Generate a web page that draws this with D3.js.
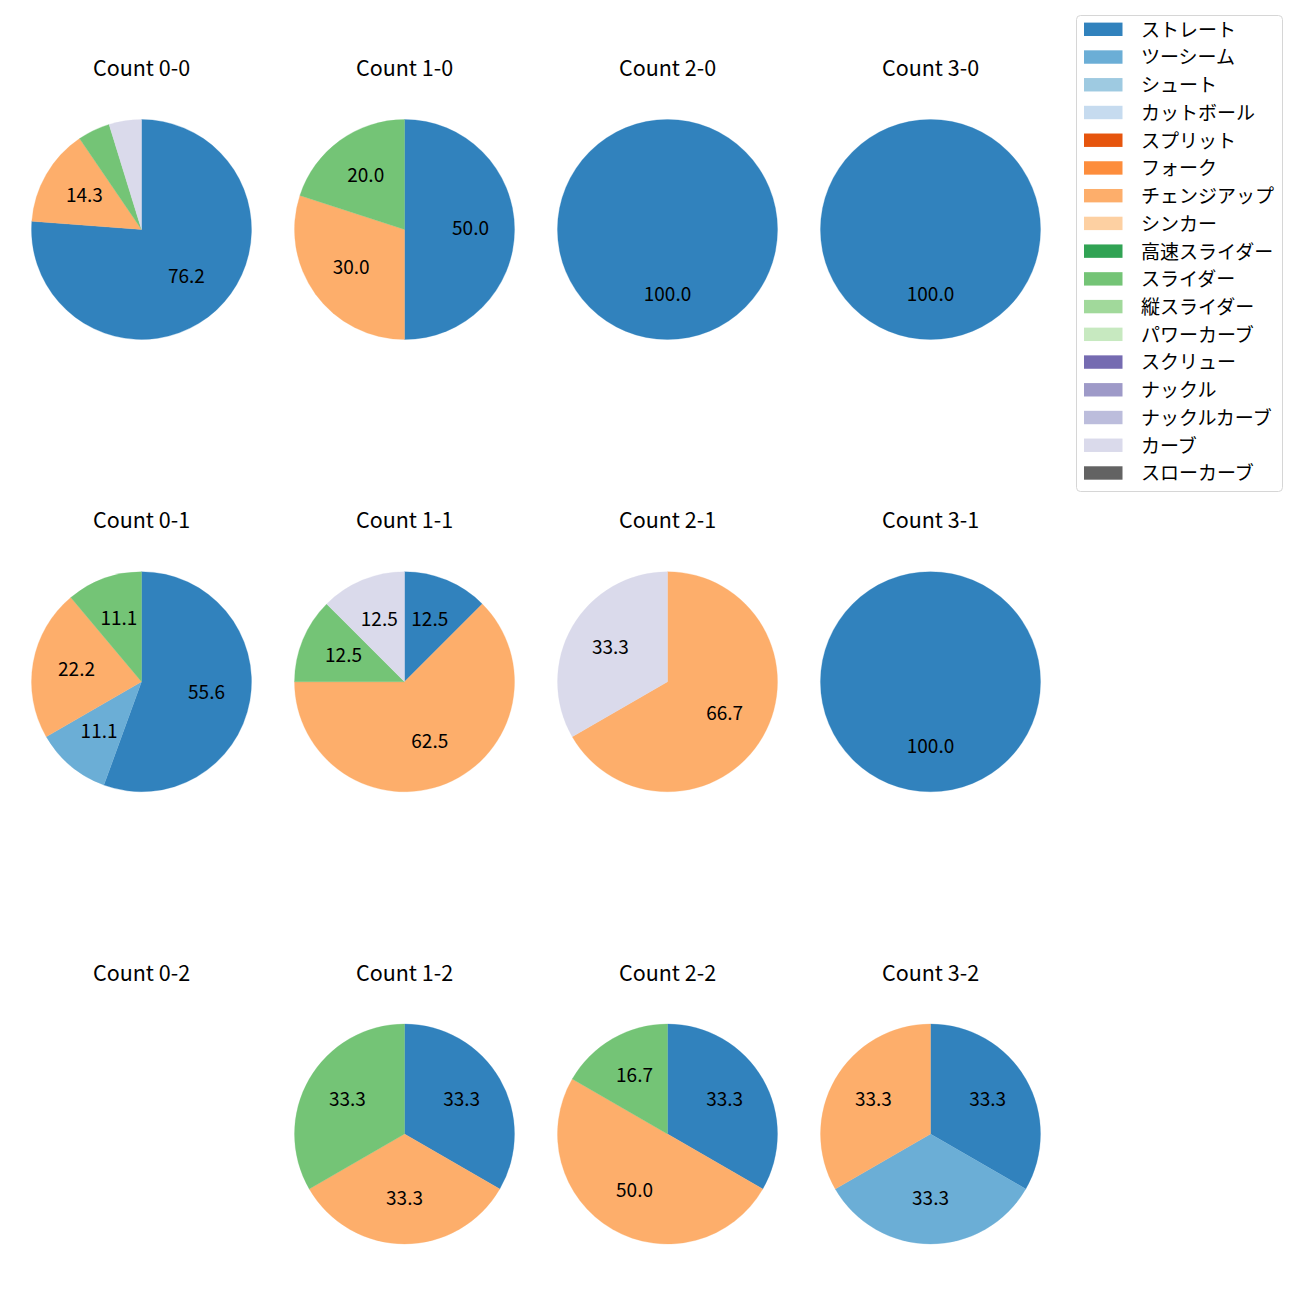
<!DOCTYPE html>
<html>
<head>
<meta charset="utf-8">
<script src="https://cdn.jsdelivr.net/npm/d3@7"></script>
<style>
  html, body { margin: 0; padding: 0; background: #ffffff; }
  text { font-family: "Noto Sans CJK JP", "Noto Sans", sans-serif; }
</style>
</head>
<body>
<svg id="chart" width="1300" height="1300"></svg>
<script>
// ---- data ----
const pitchTypes = ["ストレート","ツーシーム","シュート","カットボール","スプリット","フォーク",
  "チェンジアップ","シンカー","高速スライダー","スライダー","縦スライダー","パワーカーブ",
  "スクリュー","ナックル","ナックルカーブ","カーブ","スローカーブ"];
const pitchColors = ["#3182bd","#6baed6","#9ecae1","#c6dbef","#e6550d","#fd8d3c",
  "#fdae6b","#fdd0a2","#31a354","#74c476","#a1d99b","#c7e9c0",
  "#756bb1","#9e9ac8","#bcbddc","#dadaeb","#636363"];
const balls = [0, 1, 2, 3];
const strikes = [0, 1, 2];
// pitch counts per type (same order as pitchTypes)
//                 Str Two Sht Cut Spl For Chg Snk HSl Sld VSl PCv Scr Knk KCv Crv SCv
const count00 = [16,  0,  0,  0,  0,  0,  3,  0,  0,  1,  0,  0,  0,  0,  0,  1,  0];
const count10 = [ 5,  0,  0,  0,  0,  0,  3,  0,  0,  2,  0,  0,  0,  0,  0,  0,  0];
const count20 = [ 1,  0,  0,  0,  0,  0,  0,  0,  0,  0,  0,  0,  0,  0,  0,  0,  0];
const count30 = [ 1,  0,  0,  0,  0,  0,  0,  0,  0,  0,  0,  0,  0,  0,  0,  0,  0];
const count01 = [ 5,  1,  0,  0,  0,  0,  2,  0,  0,  1,  0,  0,  0,  0,  0,  0,  0];
const count11 = [ 1,  0,  0,  0,  0,  0,  5,  0,  0,  1,  0,  0,  0,  0,  0,  1,  0];
const count21 = [ 0,  0,  0,  0,  0,  0,  2,  0,  0,  0,  0,  0,  0,  0,  0,  1,  0];
const count31 = [ 1,  0,  0,  0,  0,  0,  0,  0,  0,  0,  0,  0,  0,  0,  0,  0,  0];
const count02 = [ 0,  0,  0,  0,  0,  0,  0,  0,  0,  0,  0,  0,  0,  0,  0,  0,  0];
const count12 = [ 1,  0,  0,  0,  0,  0,  1,  0,  0,  1,  0,  0,  0,  0,  0,  0,  0];
const count22 = [ 2,  0,  0,  0,  0,  0,  3,  0,  0,  1,  0,  0,  0,  0,  0,  0,  0];
const count32 = [ 1,  1,  0,  0,  0,  0,  1,  0,  0,  0,  0,  0,  0,  0,  0,  0,  0];

const panels = [
  {b:0,s:0,v:count00},{b:1,s:0,v:count10},{b:2,s:0,v:count20},{b:3,s:0,v:count30},
  {b:0,s:1,v:count01},{b:1,s:1,v:count11},{b:2,s:1,v:count21},{b:3,s:1,v:count31},
  {b:0,s:2,v:count02},{b:1,s:2,v:count12},{b:2,s:2,v:count22},{b:3,s:2,v:count32}
];

// ---- layout ----
const svg = d3.select("#chart");
const FONT = 19;
const TITLE_FONT = 21.5;
const x = d3.scalePoint().domain(balls).range([141.5, 930.5]);
const y = d3.scalePoint().domain(strikes).range([229.5, 1134]);
const R = 110;
const color = d3.scaleOrdinal().domain(pitchTypes).range(pitchColors);

const pie = d3.pie().sort(null).value(d => d.value);
const arc = d3.arc().innerRadius(0).outerRadius(R);
const labelArc = d3.arc().innerRadius(R * 0.6).outerRadius(R * 0.6);

panels.forEach(p => {
  const cx = x(p.b), cy = y(p.s);
  const g = svg.append("g").attr("transform", `translate(${cx},${cy})`);
  g.append("text")
    .attr("x", 0).attr("y", -153.5)
    .attr("text-anchor", "middle")
    .attr("font-size", TITLE_FONT)
    .attr("fill", "#000")
    .text(`Count ${p.b}-${p.s}`);
  const data = pitchTypes.map((t, i) => ({type: t, value: p.v[i]})).filter(d => d.value > 0);
  const total = d3.sum(data, d => d.value);
  if (total === 0) return;
  const arcs = pie(data);
  g.selectAll("path.w").data(arcs).enter().append("path")
    .attr("class", "w")
    .attr("d", arc)
    .attr("fill", d => color(d.data.type))
    .attr("stroke", d => color(d.data.type))
    .attr("stroke-width", 0.3);
  g.selectAll("text.l").data(arcs.filter(d => d.data.value / total * 100 >= 5)).enter().append("text")
    .attr("class", "l")
    .attr("transform", d => {
      const c = data.length === 1 ? [0, R * 0.6] : labelArc.centroid(d);
      return `translate(${c[0]},${c[1]})`;
    })
    .attr("text-anchor", "middle")
    .attr("dominant-baseline", "central")
    .attr("dy", "-0.16em")
    .attr("font-size", FONT)
    .attr("fill", "#000")
    .text(d => (d.data.value / total * 100).toFixed(1));
});

// ---- legend ----
const lg = svg.append("g").attr("transform", "translate(1076.5,15.5)");
lg.append("rect")
  .attr("width", 206).attr("height", 476)
  .attr("rx", 4).attr("ry", 4)
  .attr("fill", "#fff").attr("fill-opacity", 0.8)
  .attr("stroke", "#d6d6d6").attr("stroke-width", 1);
const rowStep = 27.73;
const items = lg.selectAll("g.item").data(pitchTypes).enter().append("g")
  .attr("class", "item")
  .attr("transform", (d, i) => `translate(0,${13.8 + i * rowStep})`);
items.append("rect")
  .attr("x", 7.5).attr("y", -6.7).attr("width", 38.5).attr("height", 13.4)
  .attr("fill", d => color(d));
items.append("text")
  .attr("x", 64.5).attr("y", 0)
  .attr("dominant-baseline", "central")
  .attr("dy", "-0.06em")
  .attr("font-size", FONT)
  .attr("fill", "#000")
  .text(d => d);
</script>
</body>
</html>
